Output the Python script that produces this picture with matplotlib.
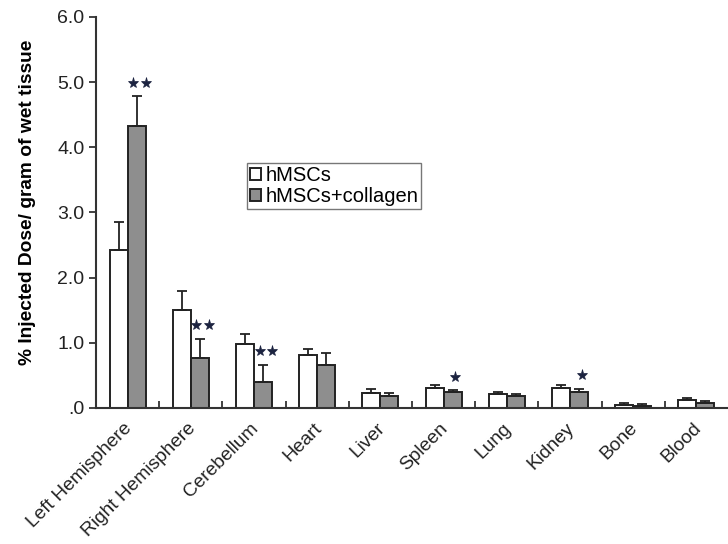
import numpy as np
import matplotlib.pyplot as plt
from matplotlib.transforms import offset_copy, ScaledTranslation

plt.rcParams['font.family'] = ['Liberation Sans', 'DejaVu Sans']

organs = ['Left Hemisphere', 'Right Hemisphere', 'Cerebellum', 'Heart', 'Liver',
          'Spleen', 'Lung', 'Kidney', 'Bone', 'Blood']
hmsc = [2.42, 1.50, 0.98, 0.81, 0.23, 0.31, 0.21, 0.31, 0.05, 0.12]
hmsc_err = [0.44, 0.29, 0.15, 0.09, 0.06, 0.04, 0.03, 0.05, 0.02, 0.04]
collagen = [4.32, 0.77, 0.40, 0.66, 0.18, 0.25, 0.19, 0.25, 0.03, 0.07]
collagen_err = [0.46, 0.29, 0.26, 0.18, 0.05, 0.02, 0.03, 0.04, 0.03, 0.03]
stars = [2, 2, 2, 0, 0, 1, 0, 1, 0, 0]

x = np.arange(len(organs))
w = 0.285
ink = '#222222'

fig = plt.figure(figsize=(7.28, 5.44), dpi=100)
ax = fig.add_axes([0.132, 0.25, 0.868, 0.719])

ekw = dict(ecolor=ink, elinewidth=1.3, capsize=3.5, capthick=1.3)
ax.bar(x - w / 2, hmsc, w, color='white', edgecolor=ink, linewidth=1.4,
       yerr=[np.zeros(len(x)), hmsc_err], error_kw=ekw, label='hMSCs')
ax.bar(x + w / 2, collagen, w, color='#8e8e8e', edgecolor=ink, linewidth=1.4,
       yerr=[np.zeros(len(x)), collagen_err], error_kw=ekw, label='hMSCs+collagen')

# significance stars above the collagen error bars
for i, n in enumerate(stars):
    if n == 0:
        continue
    top = collagen[i] + collagen_err[i]
    offs = [-4.5, 4.5] if n == 2 else [0]
    for dx in offs:
        tr = offset_copy(ax.transData, fig=fig, x=dx + 2, y=10, units='points')
        ax.plot([x[i] + w / 2], [top], marker='*', markersize=8, color='#1c2340',
                markeredgewidth=0.5, transform=tr, clip_on=False)

ax.set_xlim(-0.5, len(organs) - 0.5)
ax.set_ylim(0, 6.0)
ax.set_yticks(np.arange(0, 6.1, 1.0))
ax.set_yticklabels(['.0', '1.0', '2.0', '3.0', '4.0', '5.0', '6.0'], fontsize=14, color='#222222')
ax.set_ylabel('% Injected Dose/ gram of wet tissue', fontsize=13.8, fontweight='bold')
ax.yaxis.set_label_coords(-0.095, 0.525)

ax.set_xticks(x)
ax.set_xticklabels(organs, rotation=45, ha='right', va='baseline', rotation_mode='anchor',
                   fontsize=13.8, color='#222222')
ax.tick_params(axis='x', length=0, pad=15)
shift = ScaledTranslation(5 / 100, 0, fig.dpi_scale_trans)
for lbl in ax.get_xticklabels():
    lbl.set_transform(lbl.get_transform() + shift)
ax.set_xticks(np.arange(0.5, len(organs) - 0.5, 1.0), minor=True)
ax.tick_params(axis='x', which='minor', direction='in', length=5, width=1.3, color='#333333')
ax.tick_params(axis='y', direction='out', length=5, width=1.3, color='#333333')

for side in ['top', 'right']:
    ax.spines[side].set_visible(False)
for side in ['left', 'bottom']:
    ax.spines[side].set_linewidth(1.5)
    ax.spines[side].set_color('#333333')

leg = ax.legend(loc='upper left', bbox_to_anchor=(0.239, 0.626), fontsize=14.5, frameon=True,
                fancybox=False, handlelength=0.55, handleheight=0.55, handletextpad=0.2,
                borderpad=0.15, labelspacing=0.1, borderaxespad=0)
leg.get_frame().set_edgecolor('#555555')
leg.get_frame().set_linewidth(1.0)

fig.savefig('out.png', dpi=100)
